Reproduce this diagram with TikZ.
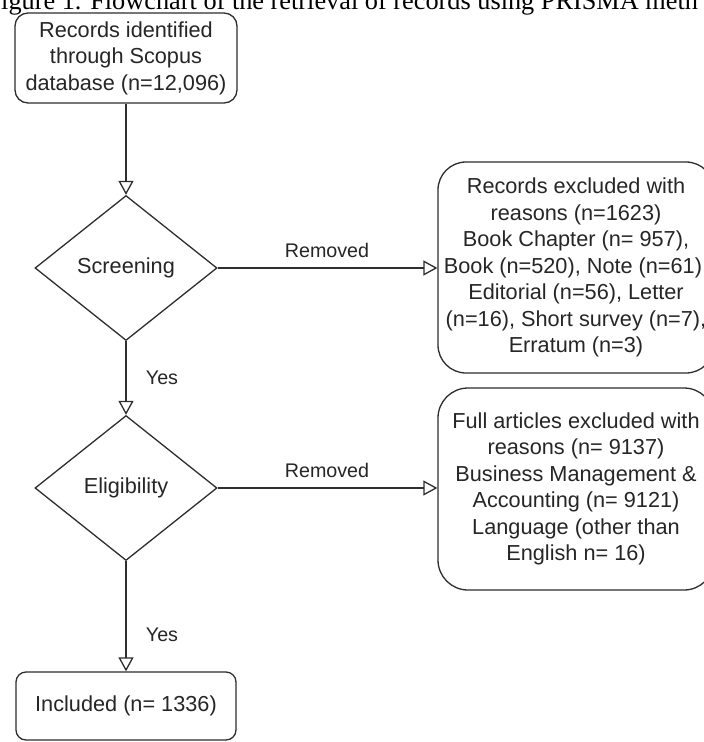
\documentclass[tikz,border=0pt]{standalone}
\usepackage{fontspec}
\setmainfont{Liberation Sans}
\newfontfamily\capfont{Liberation Serif}
\usetikzlibrary{shapes.geometric,arrows.meta}
\begin{document}
\begin{tikzpicture}[x=1pt,y=-1pt,
  ln/.style={draw=black!82, line width=1.3pt},
  txt/.style={text=black!85, align=center, inner sep=0pt, font=\fontsize{21.7}{26.5}\selectfont},
  rbox/.style={ln, txt},
  dec/.style={ln, txt, diamond, minimum width=182pt, minimum height=145pt},
  lbl/.style={text=black!85, inner sep=0pt, font=\fontsize{19.7}{23}\selectfont},
  connect/.style={ln, -{Triangle[open, length=14pt, width=15pt, line width=1.3pt]}}
]
\useasboundingbox (0,0) rectangle (704,742);
\clip (0,0) rectangle (704,742);
\fill[white] (0,0) rectangle (704,742);

\node[anchor=base west, inner sep=0pt, text=black, font=\capfont\fontsize{26.3}{30}\selectfont] (cap) at (1,9)
  {igure 1. Flowchart of the retrieval of records using PRISMA meth};

\node[rbox, rounded corners=13pt, minimum width=222pt, minimum height=90pt] (src) at (126,58)
  {Records identified\\through Scopus\\database (n=12,096)};

\node[dec] (scr) at (126,268) {Screening};
\node[dec] (eli) at (126,488) {Eligibility};

\node[rbox, rounded corners=28pt, minimum width=276pt, minimum height=211pt] (rec) at (576,267.5)
  {Records excluded with\\reasons (n=1623)\\Book Chapter (n= 957),\\Book (n=520), Note (n=61),\\Editorial (n=56), Letter\\(n=16), Short survey (n=7),\\Erratum (n=3)};

\node[rbox, rounded corners=30pt, minimum width=276pt, minimum height=202pt] (full) at (576,489)
  {Full articles excluded with\\reasons (n= 9137)\\Business Management \&\\Accounting (n= 9121)\\Language (other than\\English n= 16)};

\node[rbox, rounded corners=10pt, minimum width=220pt, minimum height=68pt] (inc) at (126,706)
  {Included (n= 1336)};

\draw[connect] (src) -- (scr);
\draw[connect] (scr) -- (eli);
\draw[connect] (eli) -- (inc);
\draw[connect] (scr.east) -- (scr.east -| rec.west);
\draw[connect] (eli.east) -- (eli.east -| full.west);

\node[lbl] (rem1) at (327,250) {Removed};
\node[lbl] (rem2) at (327,470) {Removed};
\node[lbl] (yes1) at (162,378) {Yes};
\node[lbl] (yes2) at (162,635) {Yes};
\end{tikzpicture}
\end{document}
